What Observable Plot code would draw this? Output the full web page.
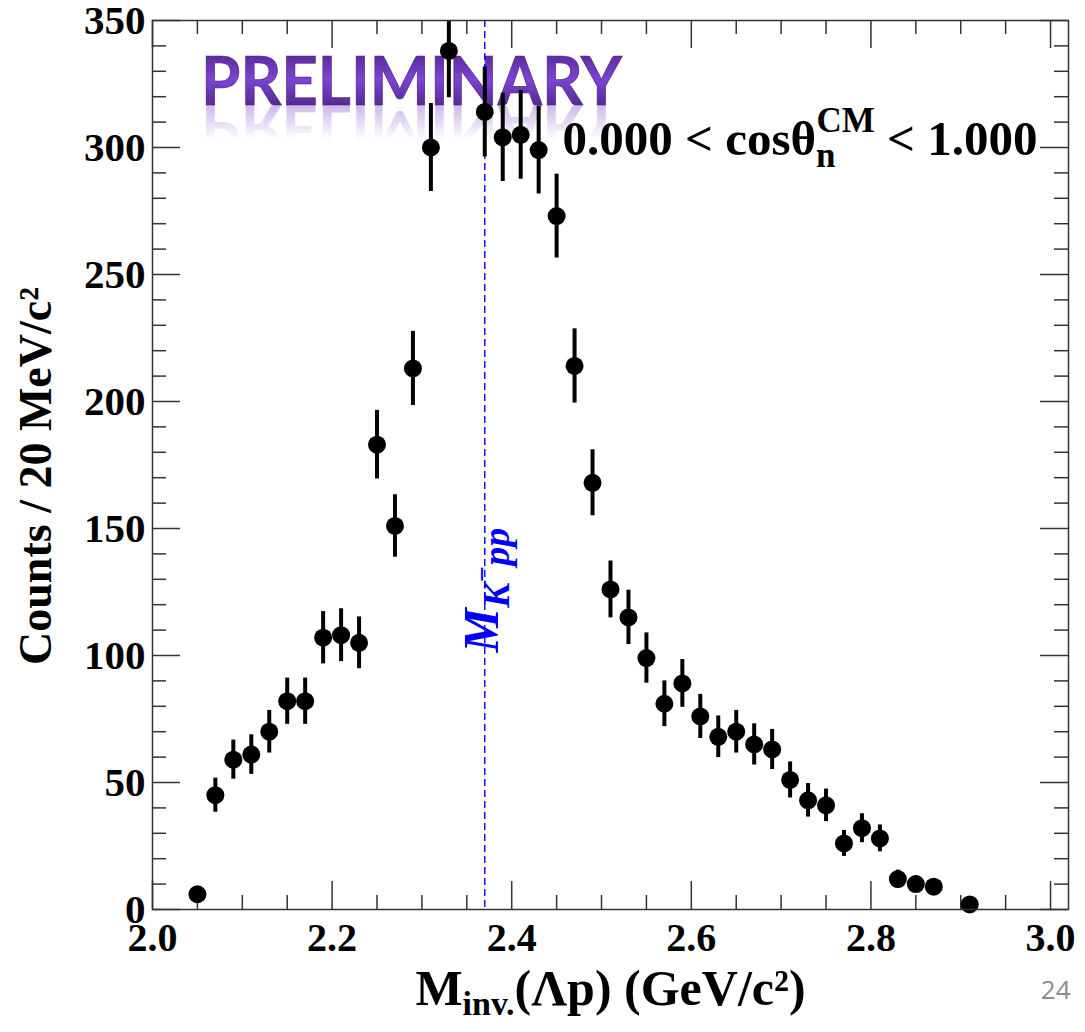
<!DOCTYPE html>
<html>
<head>
<meta charset="utf-8">
<script src="https://cdn.jsdelivr.net/npm/d3@7"></script>
<script src="https://cdn.jsdelivr.net/npm/@observablehq/plot@0.6"></script>
<style>
  html, body { margin: 0; padding: 0; background: #fff; }
  #chart svg { display: block; }
</style>
</head>
<body>
<div id="chart"></div>
<script>
// Λp invariant-mass spectrum, 20 MeV/c² bins (bin centres in GeV/c²)
const massBins = [2.05, 2.07, 2.09, 2.11, 2.13, 2.15, 2.17, 2.19, 2.21, 2.23,
                  2.25, 2.27, 2.29, 2.31, 2.33, 2.37, 2.39, 2.41, 2.43, 2.45,
                  2.47, 2.49, 2.51, 2.53, 2.55, 2.57, 2.59, 2.61, 2.63, 2.65,
                  2.67, 2.69, 2.71, 2.73, 2.75, 2.77, 2.79, 2.81, 2.83, 2.85,
                  2.87, 2.91];
const counts = [6, 45, 59, 61, 70, 82, 82, 107, 108, 105,
                183, 151, 213, 300, 338, 314, 304, 305, 299, 273,
                214, 168, 126, 115, 99, 81, 89, 76, 68, 70,
                65, 63, 51, 43, 41, 26, 32, 28, 12, 10,
                9, 2];
const countErrors = [2.4, 6.7, 7.7, 7.8, 8.4, 9.1, 9.1, 10.3, 10.4, 10.2,
                     13.5, 12.3, 14.6, 17.3, 18.4, 17.7, 17.4, 17.5, 17.3, 16.5,
                     14.6, 13.0, 11.2, 10.7, 9.9, 9.0, 9.4, 8.7, 8.2, 8.4,
                     8.1, 7.9, 7.1, 6.6, 6.4, 5.1, 5.7, 5.3, 3.5, 3.2,
                     3.0, 1.4];

// K⁻pp threshold mass (GeV/c²)
const kppMass = 2.370;

// Axis ticks and labels
const xMajorTicks = [2.0, 2.2, 2.4, 2.6, 2.8, 3.0];
const xTickLabels = ["2.0", "2.2", "2.4", "2.6", "2.8", "3.0"];
const xMinorTicks = [2.05, 2.10, 2.15, 2.25, 2.30, 2.35, 2.45, 2.50, 2.55,
                     2.65, 2.70, 2.75, 2.85, 2.90, 2.95];
const yMajorTicks = [0, 50, 100, 150, 200, 250, 300, 350];
const yTickLabels = ["0", "50", "100", "150", "200", "250", "300", "350"];
const yMinorTicks = [10, 20, 30, 40, 60, 70, 80, 90, 110, 120, 130, 140,
                     160, 170, 180, 190, 210, 220, 230, 240, 260, 270, 280, 290,
                     310, 320, 330, 340];

const rangeLabel = "0.000 < cosθ_n^CM < 1.000";
const xTitle = "M_inv.(Λp) (GeV/c²)";
const yTitle = "Counts / 20 MeV/c²";
const markerLabel = "M_K⁻pp";
const pageNumber = "24";

// ---- layout
const W = 1085, H = 1032;
const M = {top: 20, right: 17, bottom: 123, left: 152};
const innerW = W - M.left - M.right;
const innerH = H - M.top - M.bottom;
const majorLen = 28, minorLen = 14;
const axisColor = "#333";
const serif = "'Liberation Serif', 'Times New Roman', serif";

const points = massBins.map((m, i) => ({m, n: counts[i], e: countErrors[i]}));

// Purple "PRELIMINARY" stamp with a faded mirror reflection
function preliminaryStamp(index, scales, values, dims) {
  const x0 = dims.marginLeft + 49;
  const base = dims.marginTop + 85;
  const g = d3.create("svg:g").attr("text-anchor", "start");
  const defs = g.append("defs");
  const fillGrad = defs.append("linearGradient").attr("id", "prelimFill")
    .attr("x1", 0).attr("y1", 0).attr("x2", 0).attr("y2", 1);
  fillGrad.append("stop").attr("offset", 0.2).attr("stop-color", "#5c2c9f");
  fillGrad.append("stop").attr("offset", 0.5).attr("stop-color", "#7c44d2");
  fillGrad.append("stop").attr("offset", 0.84).attr("stop-color", "#55288f");
  const reflGrad = defs.append("linearGradient").attr("id", "prelimReflect")
    .attr("x1", 0).attr("y1", 0).attr("x2", 0).attr("y2", 1);
  reflGrad.append("stop").attr("offset", 0.38).attr("stop-color", "#8d62cf").attr("stop-opacity", 0);
  reflGrad.append("stop").attr("offset", 0.82).attr("stop-color", "#8d62cf").attr("stop-opacity", 0.45);
  reflGrad.append("stop").attr("offset", 1).attr("stop-color", "#8d62cf").attr("stop-opacity", 0.45);
  const word = t => t.attr("x", x0).attr("y", base)
    .attr("text-anchor", "start")
    .attr("font-family", "Lato, 'Open Sans', sans-serif")
    .attr("font-weight", "bold")
    .attr("font-size", 66)
    .attr("textLength", 421)
    .attr("lengthAdjust", "spacingAndGlyphs")
    .text("PRELIMINARY");
  g.append("g").attr("transform", `translate(0,${2 * base}) scale(1,-1)`)
    .append("text").call(word).attr("fill", "url(#prelimReflect)");
  g.append("text").call(word).attr("fill", "url(#prelimFill)")
    .attr("stroke", "#4a2280").attr("stroke-width", 0.6);
  return g.node();
}

const chart = Plot.plot({
  width: W,
  height: H,
  marginTop: M.top,
  marginRight: M.right,
  marginBottom: M.bottom,
  marginLeft: M.left,
  style: {fontFamily: serif, background: "#fff", color: "#000", overflow: "visible"},
  x: {domain: [2.0, 3.02], label: null},
  y: {domain: [0, 350], label: null},
  marks: [
    preliminaryStamp,

    // tick labels
    Plot.axisX(xMajorTicks, {
      tickSize: 0, tickPadding: 13, label: null,
      tickFormat: d => xTickLabels[xMajorTicks.indexOf(d)],
      fontSize: 40, fontWeight: "bold"
    }),
    Plot.axisY(yMajorTicks, {
      tickSize: 0, tickPadding: 7, label: null,
      tickFormat: d => yTickLabels[yMajorTicks.indexOf(d)],
      fontSize: 41, fontWeight: "bold"
    }),

    // inward tick marks on all four sides
    Plot.ruleX(xMajorTicks, {insetTop: innerH - majorLen, stroke: axisColor, strokeWidth: 1.5}),
    Plot.ruleX(xMinorTicks, {insetTop: innerH - minorLen, stroke: axisColor, strokeWidth: 1.5}),
    Plot.ruleX(xMajorTicks, {insetBottom: innerH - majorLen, stroke: axisColor, strokeWidth: 1.5}),
    Plot.ruleX(xMinorTicks, {insetBottom: innerH - minorLen, stroke: axisColor, strokeWidth: 1.5}),
    Plot.ruleY(yMajorTicks, {insetRight: innerW - majorLen, stroke: axisColor, strokeWidth: 1.5}),
    Plot.ruleY(yMinorTicks, {insetRight: innerW - minorLen, stroke: axisColor, strokeWidth: 1.5}),
    Plot.ruleY(yMajorTicks, {insetLeft: innerW - majorLen, stroke: axisColor, strokeWidth: 1.5}),
    Plot.ruleY(yMinorTicks, {insetLeft: innerW - minorLen, stroke: axisColor, strokeWidth: 1.5}),

    // K⁻pp threshold
    Plot.ruleX([kppMass], {stroke: "#0000ff", strokeWidth: 1.4, strokeDasharray: "7,4"}),
    Plot.text([markerLabel], {
      text: d => d, x: () => kppMass, frameAnchor: "bottom",
      dx: 13, dy: -257, rotate: -90, textAnchor: "start", lineAnchor: "bottom",
      fontSize: 50, fontWeight: "bold", fontStyle: "italic", fill: "#0000ff"
    }),

    // data with statistical errors
    Plot.ruleX(points, {x: "m", y1: d => d.n - d.e, y2: d => d.n + d.e,
                        stroke: "#000", strokeWidth: 4, clip: true}),
    Plot.dot(points, {x: "m", y: "n", r: 9, fill: "#000", stroke: null}),

    Plot.frame({stroke: axisColor, strokeWidth: 1.5}),

    // angular selection label
    Plot.text([rangeLabel], {
      text: d => d, frameAnchor: "top-left", dx: 410, dy: 134,
      textAnchor: "start", lineAnchor: "bottom",
      fontSize: 49, fontWeight: "bold", fill: "#000"
    }),

    // axis titles
    Plot.text([yTitle], {
      text: d => d, frameAnchor: "left", dx: -102, dy: 11, rotate: -90,
      textAnchor: "middle", lineAnchor: "bottom",
      fontSize: 46, fontWeight: "bold", fill: "#000"
    }),
    Plot.text([xTitle], {
      text: d => d, frameAnchor: "bottom", dx: 0, dy: 95,
      textAnchor: "middle", lineAnchor: "bottom",
      fontSize: 50, fontWeight: "bold", fill: "#000"
    }),

    // slide page number
    Plot.text([pageNumber], {
      text: d => d, frameAnchor: "bottom-right", dx: 2, dy: 89,
      textAnchor: "end", lineAnchor: "bottom",
      fontSize: 26, fontFamily: "'Open Sans', sans-serif", fill: "#8c8c8c"
    })
  ]
});

// Rebuild a plain text label as mixed-size runs (sub- and superscripts)
function richText(svg, key, runs) {
  d3.select(svg).selectAll("text")
    .filter(function() { return this.textContent === key; })
    .each(function() {
      const t = d3.select(this);
      t.selectAll("*").remove();
      t.text(null);
      for (const r of runs) {
        const s = t.append("tspan").text(r.text);
        if (r.size) s.attr("font-size", r.size);
        if (r.dx) s.attr("dx", r.dx);
        if (r.dy) s.attr("dy", r.dy);
      }
    });
}

richText(chart, rangeLabel, [
  {text: "0.000 < cosθ"},
  {text: "n", size: 35, dy: 12},
  {text: "CM", size: 35, dx: -19, dy: -35},
  {text: " < 1.000", size: 49, dy: 23}
]);
richText(chart, xTitle, [
  {text: "M"},
  {text: "inv.", size: 34, dy: 10},
  {text: "(Λp) (GeV/c²)", size: 50, dy: -10}
]);
richText(chart, markerLabel, [
  {text: "M"},
  {text: "K", size: 38, dy: 11},
  {text: "−", size: 28, dy: -18},
  {text: "pp", size: 38, dy: 18}
]);

document.getElementById("chart").appendChild(chart);
</script>
</body>
</html>
